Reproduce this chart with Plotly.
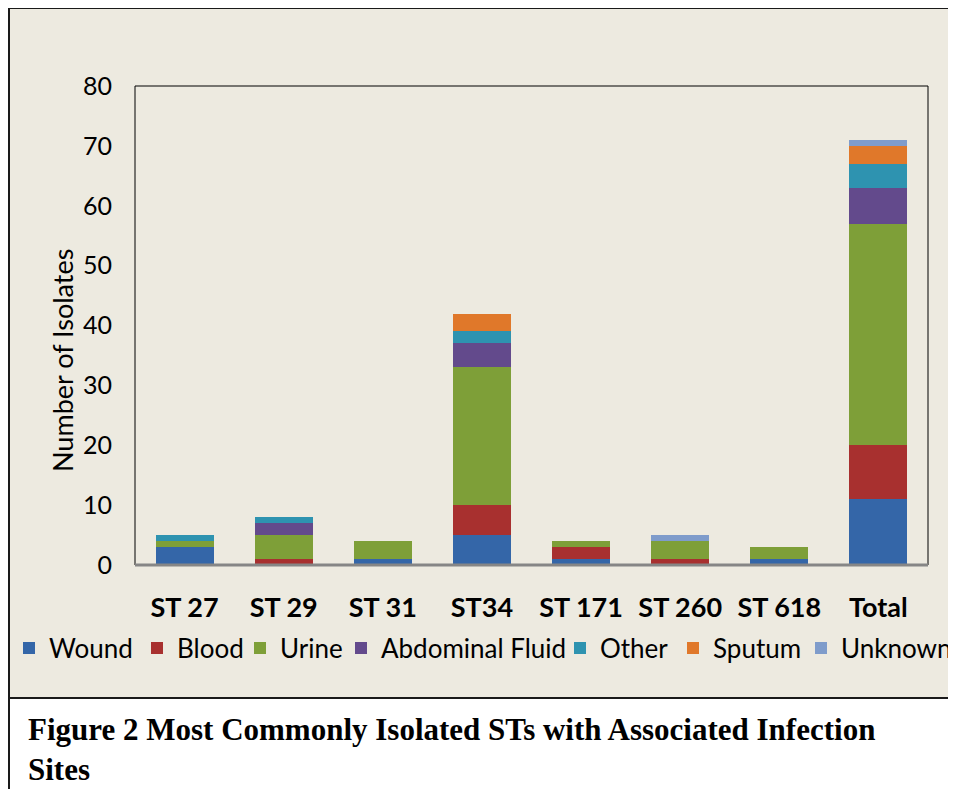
import plotly.graph_objects as go

categories = ["ST 27", "ST 29", "ST 31", "ST34", "ST 171", "ST 260", "ST 618", "Total"]
wound = [3, 0, 1, 5, 1, 0, 1, 11]
blood = [0, 1, 0, 5, 2, 1, 0, 9]
urine = [1, 4, 3, 23, 1, 3, 2, 37]
abdominal = [0, 2, 0, 4, 0, 0, 0, 6]
other = [1, 1, 0, 2, 0, 0, 0, 4]
sputum = [0, 0, 0, 3, 0, 0, 0, 3]
unknown = [0, 0, 0, 0, 0, 1, 0, 1]

series = [
    ("Wound", wound, "#3466A8"),
    ("Blood", blood, "#A8302F"),
    ("Urine", urine, "#7E9F38"),
    ("Abdominal Fluid", abdominal, "#634A8C"),
    ("Other", other, "#2E93B0"),
    ("Sputum", sputum, "#E0782A"),
    ("Unknown", unknown, "#7F9CCB"),
]

BG = "#EDEAE0"
FONT = "Lato, Carlito, 'Open Sans', sans-serif"
SERIF = "'Liberation Serif', 'Times New Roman', serif"

# page offset of the plotly div (body margin)
OFF = 8
W, H = 956 - OFF, 789 - OFF
L, R, T, B = 135 - OFF, 928 - OFF, 86 - OFF, 565 - OFF

def px(x):
    return (x - OFF - L) / (R - L)

def py(y):
    return (B - (y - OFF)) / (B - T)

# legend text start positions (page px) in the reference
legend_text_x = [49, 177, 280, 381, 600, 713, 841]

fig = go.Figure()
legends = {}
for i, (name, vals, col) in enumerate(series):
    lname = "legend" if i == 0 else f"legend{i + 1}"
    fig.add_trace(go.Bar(x=categories, y=vals, name=name, legend=lname, showlegend=True,
                         marker=dict(color=col, line=dict(width=0))))
    legends[lname] = dict(orientation="h", x=px(legend_text_x[i] - 40), xanchor="left",
                          y=py(648), yanchor="middle", font=dict(size=26, family=FONT),
                          bgcolor="rgba(0,0,0,0)", borderwidth=0, itemwidth=30)

shapes = [
    dict(type="rect", xref="paper", yref="paper", x0=px(9), x1=px(955), y0=py(698), y1=py(800),
         fillcolor="white", line=dict(color="#1a1a1a", width=2), layer="below"),
    dict(type="rect", xref="paper", yref="paper", x0=px(9), x1=px(955), y0=py(698), y1=py(8),
         fillcolor=BG, line=dict(color="#1a1a1a", width=2), layer="below"),
    dict(type="rect", xref="paper", yref="paper", x0=0, x1=1, y0=0, y1=1,
         line=dict(color="black", width=1), layer="above"),
    dict(type="line", xref="paper", yref="paper", x0=0, x1=1, y0=0, y1=0,
         line=dict(color="#868686", width=3), layer="above"),
]

annotations = [
    dict(text="<b>Figure 2 Most Commonly Isolated STs with Associated Infection</b>",
         xref="paper", yref="paper", x=px(26), y=py(729), xanchor="left", yanchor="middle",
         showarrow=False, font=dict(family=SERIF, size=31, color="black")),
    dict(text="<b>Sites</b>",
         xref="paper", yref="paper", x=px(26), y=py(769), xanchor="left", yanchor="middle",
         showarrow=False, font=dict(family=SERIF, size=31, color="black")),
    dict(text="Number of Isolates", textangle=-90,
         xref="paper", yref="paper", x=px(62), y=py(361), xanchor="center", yanchor="middle",
         showarrow=False, font=dict(family=FONT, size=27, color="black")),
]

fig.update_layout(
    width=W, height=H, showlegend=True,
    margin=dict(l=L, r=W - R, t=T, b=H - B, autoexpand=False),
    paper_bgcolor=BG, plot_bgcolor=BG,
    barmode="stack", bargap=0.415,
    font=dict(family=FONT, color="black", size=25),
    shapes=shapes, annotations=annotations,
    xaxis=dict(showgrid=False, showline=False, ticks="", automargin=False,
               tickfont=dict(size=27, family=FONT), ticklabelstandoff=24,
               tickvals=categories, ticktext=[f"<b>{c}</b>" for c in categories]),
    yaxis=dict(range=[0, 80], dtick=10, showgrid=False, showline=False, ticks="",
               zeroline=False, automargin=False, tickfont=dict(size=25, family=FONT),
               ticklabelstandoff=22),
    **legends,
)

fig.write_html("out.html")
